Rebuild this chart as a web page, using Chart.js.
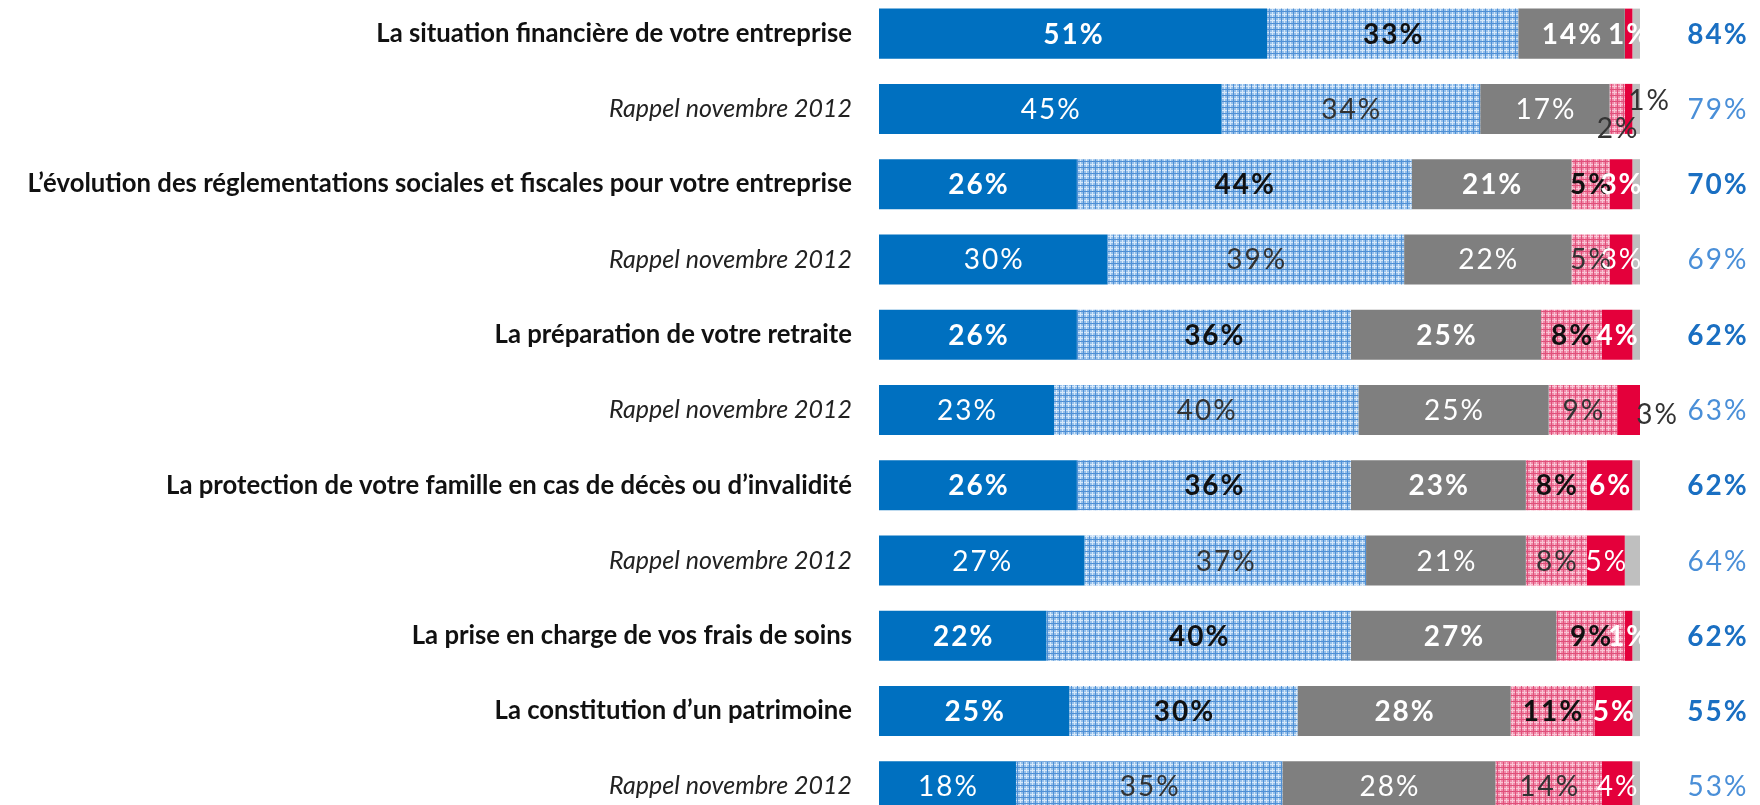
<!DOCTYPE html>
<html>
<head>
<meta charset="utf-8">
<script src="https://cdn.jsdelivr.net/npm/chart.js@4.4.1/dist/chart.umd.min.js"></script>
<style>
    html, body { margin: 0; padding: 0; background: #fff; overflow: hidden; }
    #wrap { position: absolute; left: 0; top: -4px; width: 1760px; height: 828px; }
</style>
</head>
<body>
<div id="wrap"><canvas id="myBarChart"></canvas></div>
<script>
// Data

const categories = [
    'La situation financière de votre entreprise',
    'Rappel novembre 2012',
    'L’évolution des réglementations sociales et fiscales pour votre entreprise',
    'Rappel novembre 2012',
    'La préparation de votre retraite',
    'Rappel novembre 2012',
    'La protection de votre famille en cas de décès ou d’invalidité',
    'Rappel novembre 2012',
    'La prise en charge de vos frais de soins',
    'La constitution d’un patrimoine',
    'Rappel novembre 2012'
];

const serie1 = [51, 45, 26, 30, 26, 23, 26, 27, 22, 25, 18];
const serie2 = [33, 34, 44, 39, 36, 40, 36, 37, 40, 30, 35];
const serie3 = [14, 17, 21, 22, 25, 25, 23, 21, 27, 28, 28];
const serie4 = [0, 2, 5, 5, 8, 9, 8, 8, 9, 11, 14];
const serie5 = [1, 1, 3, 3, 4, 3, 6, 5, 1, 5, 4];
const nsp = [1, 1, 1, 1, 1, 0, 1, 2, 1, 1, 1];
const totals = [84, 79, 70, 69, 62, 63, 62, 64, 62, 55, 53];

// Muster

function makePattern(base, light, dark) {
    const c = document.createElement('canvas');
    c.width = 6;
    c.height = 6;
    const g = c.getContext('2d');
    g.fillStyle = base;
    g.fillRect(0, 0, 6, 6);
    g.fillStyle = light;
    g.fillRect(0, 0, 6, 1);
    g.fillRect(0, 0, 1, 6);
    g.fillStyle = dark;
    g.fillRect(0, 3, 6, 1);
    g.fillRect(3, 0, 1, 6);
    return g.createPattern(c, 'repeat');
}

const bluePattern = makePattern('#96c0ea', '#d6e8f9', '#4f90d6');
const pinkPattern = makePattern('#f08aa9', '#f9c6d5', '#e0507a');

const isRappel = (i) => categories[i].startsWith('Rappel');

// Beschriftungen, die neben dem Balken stehen (Zeile-Serie: [dx, dy])
const labelShift = {
    '1-3': [0, 19],
    '1-4': [20, -9],
    '5-4': [28, 4]
};

const labelColors = ['#ffffff', '#111111', '#ffffff', '#111111', '#ffffff'];

const valueLabels = {
    id: 'valueLabels',
    afterDatasetsDraw(chart) {
        const ctx = chart.ctx;
        ctx.save();
        ctx.textAlign = 'center';
        ctx.textBaseline = 'middle';
        ctx.letterSpacing = '2px';
        for (let d = 0; d < 5; d++) {
            const meta = chart.getDatasetMeta(d);
            const values = chart.data.datasets[d].data;
            meta.data.forEach((bar, i) => {
                const v = values[i];
                if (!v) return;
                const p = bar.getProps(['x', 'y', 'base'], true);
                let x = (p.x + p.base) / 2;
                let y = p.y;
                let color = labelColors[d];
                const shift = labelShift[i + '-' + d];
                if (shift) {
                    x += shift[0];
                    y += shift[1];
                    color = '#111111';
                }
                if (isRappel(i) && color === '#111111') color = '#333333';
                ctx.font = (isRappel(i) ? '' : 'bold ') + '28px Lato';
                ctx.fillStyle = color;
                ctx.fillText(v + '%', x + 1, y + 1);
            });
        }
        // Summen rechts
        const yScale = chart.scales.y;
        totals.forEach((t, i) => {
            ctx.font = (isRappel(i) ? '' : 'bold ') + '28px Lato';
            ctx.fillStyle = isRappel(i) ? '#4a8fd8' : '#1a6fc2';
            ctx.fillText(t + '%', chart.chartArea.right + 78, yScale.getPixelForValue(i) + 1);
        });
        ctx.restore();
    }
};

const ctxBar = document.getElementById('myBarChart').getContext('2d');
const myBarChart = new Chart(ctxBar, {
    type: 'bar',
    data: {
        labels: categories,
        datasets: [
            { data: serie1, backgroundColor: '#0070c0' },
            { data: serie2, backgroundColor: bluePattern },
            { data: serie3, backgroundColor: '#7f7f7f' },
            { data: serie4, backgroundColor: pinkPattern },
            { data: serie5, backgroundColor: '#e4003b' },
            { data: nsp, backgroundColor: '#bfbfbf' }
        ]
    },
    plugins: [valueLabels],
    options: {
        indexAxis: 'y',
        responsive: true,
        maintainAspectRatio: false,
        animation: false,
        layout: {
            padding: { left: 0, right: 120, top: 0, bottom: 0 }
        },
        datasets: {
            bar: {
                barPercentage: 0.665,
                categoryPercentage: 1,
                borderWidth: 0
            }
        },
        plugins: {
            legend: { display: false },
            tooltip: { enabled: false }
        },
        scales: {
            x: {
                display: false,
                stacked: true,
                min: 0,
                max: 100
            },
            y: {
                stacked: true,
                grid: { display: false, drawTicks: false },
                border: { display: false },
                afterFit: (scale) => {
                    scale.width = 879;
                    scale.paddingTop = 0;
                    scale.paddingBottom = 0;
                },
                ticks: {
                    autoSkip: false,
                    padding: 27,
                    color: (c) => isRappel(c.index) ? '#222222' : '#111111',
                    font: (c) => isRappel(c.index)
                        ? { family: 'Lato', size: 25, style: 'italic', weight: 'normal' }
                        : { family: 'Lato', size: 25.7, weight: 'bold' }
                }
            }
        },
        events: []
    }
});
</script>
</body>
</html>
